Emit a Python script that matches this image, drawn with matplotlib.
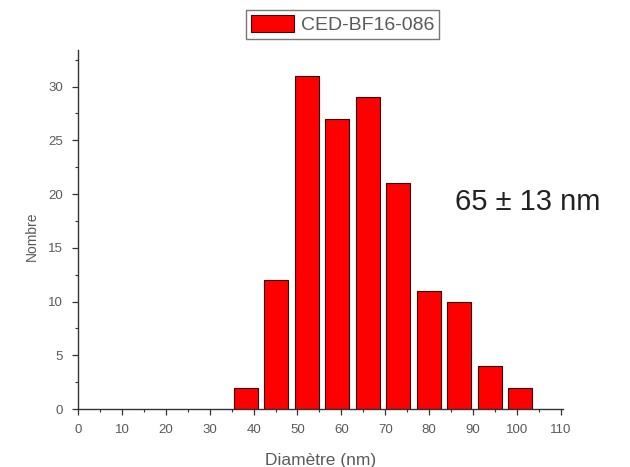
import matplotlib
matplotlib.use("Agg")
import matplotlib.pyplot as plt
from matplotlib.ticker import MultipleLocator

plt.rcParams['font.family'] = ['Liberation Sans', 'DejaVu Sans']

bin_left = [35.5, 42.45, 49.4, 56.35, 63.3, 70.25, 77.2, 84.15, 91.1, 98.05]
counts = [2, 12, 31, 27, 29, 21, 11, 10, 4, 2]
bar_width = 5.5
series_name = "CED-BF16-086"
annotation = "65 ± 13 nm"
xlabel = "Diamètre (nm)"
ylabel = "Nombre"

gray = "#5a5a5a"
W, H = 630, 467
fig = plt.figure(figsize=(6.3, 4.67), dpi=100)
ax = fig.add_axes([78 / W, 1 - 409 / H, 485 / W, 359 / H])

bars = ax.bar(bin_left, counts, width=bar_width, align='edge', color='#ff0000',
              edgecolor='#3a0000', linewidth=0.8, label=series_name)

ax.set_xlim(0, 110.5)
ax.set_ylim(0, 33.4)
ax.xaxis.set_major_locator(MultipleLocator(10))
ax.xaxis.set_minor_locator(MultipleLocator(5))
ax.yaxis.set_major_locator(MultipleLocator(5))
ax.yaxis.set_minor_locator(MultipleLocator(2.5))
for s in ['top', 'right']:
    ax.spines[s].set_visible(False)
for s in ['left', 'bottom']:
    ax.spines[s].set_color('#333333')
    ax.spines[s].set_linewidth(1.0)
ax.tick_params(which='major', direction='out', length=4, width=0.9, color='#333333',
               labelsize=9.5, labelcolor=gray)
ax.tick_params(axis='x', which='major', pad=7)
ax.tick_params(axis='y', which='major', pad=7)
ax.tick_params(which='minor', direction='out', length=2.5, width=0.8, color='#333333')

ax.set_xlabel(xlabel, fontsize=12.5, color=gray, labelpad=12)
ax.set_ylabel(ylabel, fontsize=10, color=gray)
ax.yaxis.set_label_coords(-0.08, 0.48)

ax.text(86.0, 19.3, annotation, fontsize=21, color='#222222', va='center', ha='left')

leg = fig.legend(handles=[bars], labels=[series_name], loc='center',
                 bbox_to_anchor=(342.5 / W, 1 - 24.5 / H), frameon=True, fancybox=False,
                 fontsize=14, handlelength=2.2, handleheight=1.0, borderpad=0.25,
                 handletextpad=0.35, borderaxespad=0)
leg.get_frame().set_edgecolor('#555555')
leg.get_frame().set_linewidth(1.0)
for t in leg.get_texts():
    t.set_color(gray)

fig.savefig("out.png", dpi=100)
